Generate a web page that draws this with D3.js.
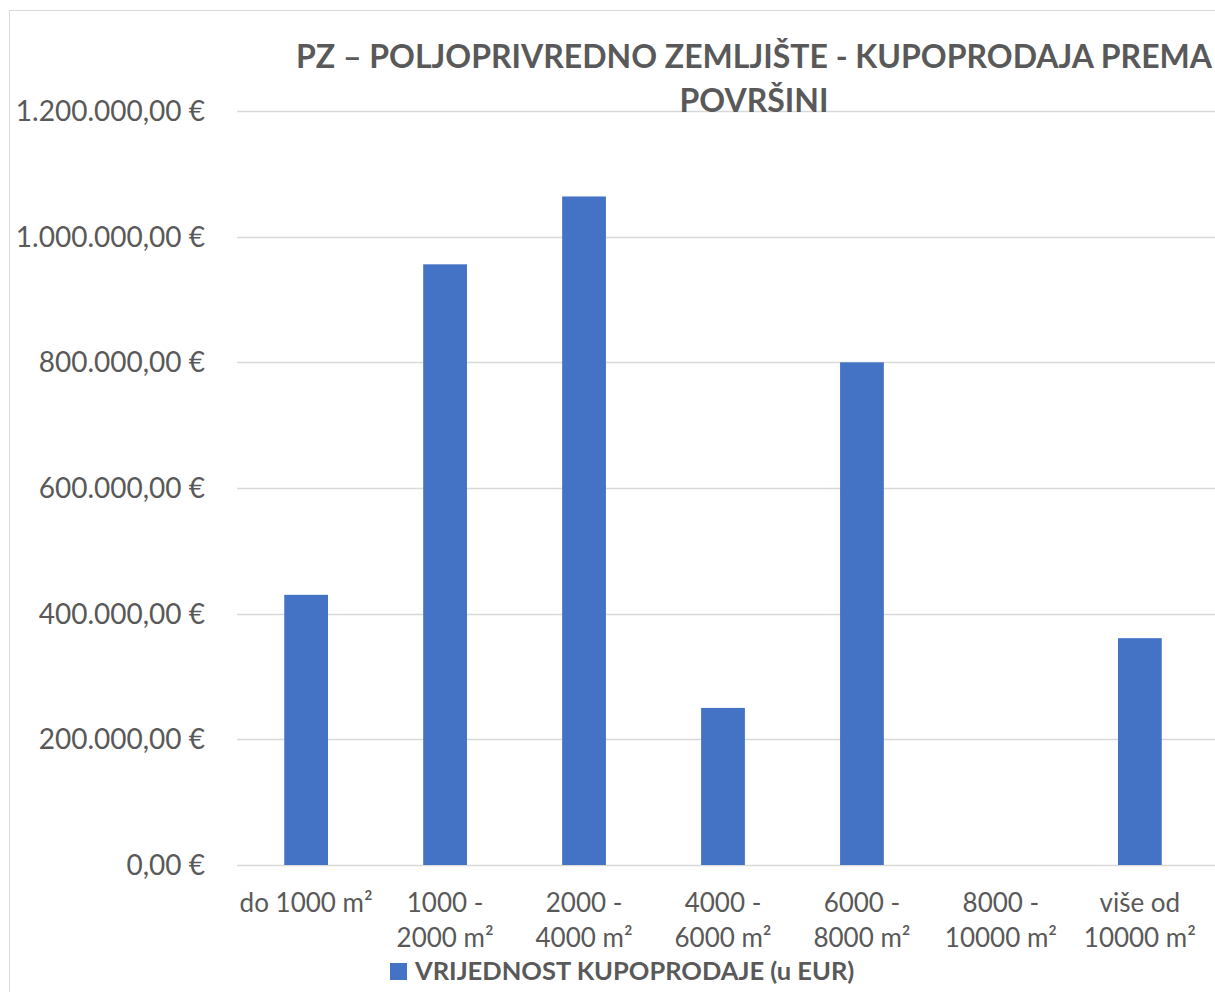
<!DOCTYPE html>
<html lang="hr">
<head>
<meta charset="UTF-8">
<title>PZ – kupoprodaja prema površini</title>
<script src="https://d3js.org/d3.v7.min.js"></script>
<style>
  body { margin: 0; background: #fff; }
  svg { display: block; }
</style>
</head>
<body>
<div id="chart"></div>
<script>
  // categories (two-line labels) and values in EUR
  const categories = [
    ["do 1000 m²"],
    ["1000 -", "2000 m²"],
    ["2000 -", "4000 m²"],
    ["4000 -", "6000 m²"],
    ["6000 -", "8000 m²"],
    ["8000 -", "10000 m²"],
    ["više od", "10000 m²"]
  ];
  const values = [430000, 956000, 1064000, 250000, 800000, 0, 361000];
  const yTicks = [0, 200000, 400000, 600000, 800000, 1000000, 1200000];
  const seriesName = "VRIJEDNOST KUPOPRODAJE (u EUR)";
  const titleLines = ["PZ – POLJOPRIVREDNO ZEMLJIŠTE - KUPOPRODAJA PREMA", "POVRŠINI"];

  const W = 1215, H = 992;
  const plotL = 237, plotR = 1209, plotT = 111, plotB = 865;
  const txt = "#595959", grid = "#d9d9d9", barColor = "#4472c4";
  const font = "Lato, 'Open Sans', sans-serif";

  const svg = d3.select('#chart').append('svg').attr('width', W).attr('height', H);

  // chart border
  svg.append('rect')
    .attr('x', 9.5).attr('y', 10.5)
    .attr('width', 1300).attr('height', 1100)
    .attr('fill', 'none').attr('stroke', grid);

  const x = d3.scaleBand().domain(d3.range(categories.length))
    .range([plotL, plotR]).paddingInner(0.685).paddingOuter(0.34);
  const y = d3.scaleLinear().domain([0, 1200000]).range([plotB, plotT]);

  const fmt = v => d3.format(",.2f")(v).replace(/,/g, "#").replace(".", ",").replace(/#/g, ".") + " €";

  // gridlines
  svg.append('g').selectAll('line').data(yTicks).enter()
    .append('line')
    .attr('x1', plotL).attr('x2', W)
    .attr('y1', d => Math.round(y(d)) + 0.5)
    .attr('y2', d => Math.round(y(d)) + 0.5)
    .attr('stroke', grid).attr('stroke-width', 1.5);

  // y labels
  svg.append('g').selectAll('text').data(yTicks).enter()
    .append('text')
    .attr('x', 205).attr('y', d => y(d))
    .attr('dy', '0.36em')
    .attr('text-anchor', 'end')
    .attr('font-family', font).attr('font-size', 28)
    .attr('fill', txt)
    .text(fmt);

  // bars
  svg.append('g').selectAll('rect').data(values).enter()
    .append('rect')
    .attr('x', (d, i) => x(i))
    .attr('width', x.bandwidth())
    .attr('y', d => y(d))
    .attr('height', d => plotB - y(d))
    .attr('fill', barColor);

  // x labels
  const xl = svg.append('g').selectAll('text').data(categories).enter()
    .append('text')
    .attr('text-anchor', 'middle')
    .attr('font-family', font).attr('font-size', 26)
    .attr('fill', txt);
  xl.selectAll('tspan').data((d, i) => d.map(s => ({ s, i }))).enter()
    .append('tspan')
    .attr('x', d => x(d.i) + x.bandwidth() / 2)
    .attr('y', (d, j) => 912 + j * 35)
    .text(d => d.s);

  // title
  svg.append('g').selectAll('text').data(titleLines).enter()
    .append('text')
    .attr('x', 754).attr('y', (d, i) => 68 + i * 44)
    .attr('text-anchor', 'middle')
    .attr('font-family', font).attr('font-size', 32).attr('font-weight', 'bold')
    .attr('fill', txt)
    .text(d => d);

  // legend
  svg.append('rect').attr('x', 390).attr('y', 963).attr('width', 17).attr('height', 17).attr('fill', barColor);
  svg.append('text')
    .attr('x', 415).attr('y', 980)
    .attr('font-family', font).attr('font-size', 25.5).attr('font-weight', 'bold')
    .attr('fill', txt)
    .text(seriesName);
</script>
</body>
</html>
